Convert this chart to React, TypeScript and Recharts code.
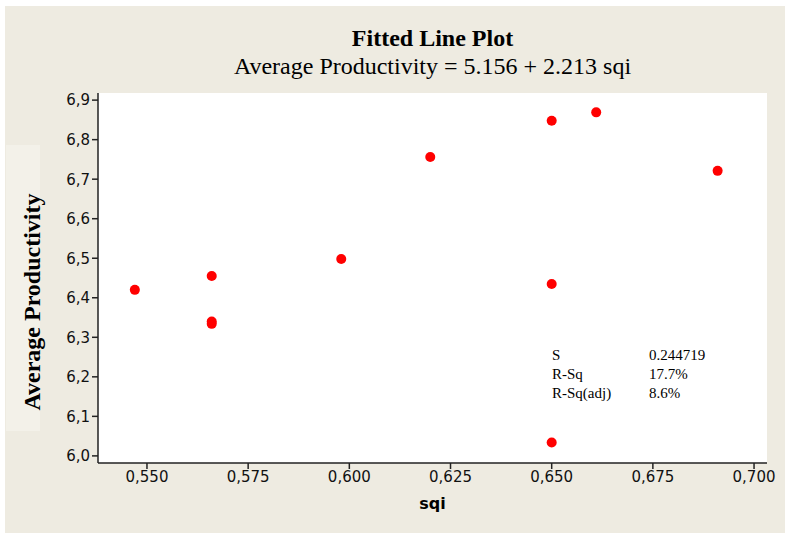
import { ScatterChart, Scatter, XAxis, YAxis, CartesianGrid } from 'recharts'

const sqi = [0.547, 0.566, 0.566, 0.566, 0.598, 0.62, 0.65, 0.65, 0.65, 0.661, 0.691]
const productivity = [6.42, 6.455, 6.334, 6.34, 6.498, 6.756, 6.848, 6.435, 6.034, 6.869, 6.721]
const xTicks = [0.55, 0.575, 0.6, 0.625, 0.65, 0.675, 0.7]
const yTicks = [6.0, 6.1, 6.2, 6.3, 6.4, 6.5, 6.6, 6.7, 6.8, 6.9]
const statLabels = ['S', 'R-Sq', 'R-Sq(adj)']
const statValues = ['0.244719', '17.7%', '8.6%']

const points = sqi.map((x, i) => ({ sqi: x, prod: productivity[i] }))

const comma = (d: number) => (v: number) => v.toFixed(d).replace('.', ',')

const serif = '"Liberation Serif", "Times New Roman", serif'
const sans = '"DejaVu Sans", Verdana, sans-serif'

function Dot(props: any) {
  const { cx, cy } = props
  return <circle cx={cx} cy={cy} r={5} fill="#ff0000" />
}

export default function App() {
  return (
    <div style={{ position: 'absolute', left: 0, top: 0, width: 789, height: 535, background: '#fff' }}>
      <div style={{ position: 'absolute', left: 5, top: 6, width: 780, height: 527, background: '#eeebe1' }} />
      <div style={{ position: 'absolute', left: 6, top: 145, width: 34, height: 286, background: '#f3f1e9' }} />
      <div style={{ position: 'absolute', left: 0, top: 0 }}>
        <ScatterChart width={789} height={535} margin={{ top: 93, right: 22, bottom: 22, left: 38 }}>
          <CartesianGrid horizontal={false} vertical={false} fill="#ffffff" stroke="none" />
          <XAxis
            type="number"
            dataKey="sqi"
            domain={[0.5379, 0.7032]}
            ticks={xTicks}
            tickFormatter={comma(3)}
            allowDataOverflow
            height={50}
            stroke="#222"
            strokeWidth={1.5}
            tickSize={6}
            tick={{ fontSize: 15, fill: '#111', fontFamily: sans }}
          />
          <YAxis
            type="number"
            dataKey="prod"
            domain={[5.982, 6.918]}
            ticks={yTicks}
            tickFormatter={comma(1)}
            allowDataOverflow
            width={60}
            stroke="#222"
            strokeWidth={1.5}
            tickSize={6}
            tickMargin={2}
            tick={{ fontSize: 15, fill: '#111', fontFamily: sans }}
          />
          <Scatter data={points} shape={<Dot />} isAnimationActive={false} />
        </ScatterChart>
      </div>
      <div style={{ position: 'absolute', left: 98, width: 669, top: 24, textAlign: 'center', fontFamily: serif, color: '#000' }}>
        <div style={{ fontSize: 24, fontWeight: 'bold', lineHeight: '28px' }}>Fitted Line Plot</div>
        <div style={{ fontSize: 24, lineHeight: '28px' }}>Average Productivity = 5.156 + 2.213 sqi</div>
      </div>
      <div
        style={{
          position: 'absolute',
          left: 32,
          top: 302,
          transform: 'translate(-50%, -50%) rotate(-90deg)',
          whiteSpace: 'nowrap',
          fontFamily: serif,
          fontWeight: 'bold',
          fontSize: 24,
          color: '#000',
        }}
      >
        Average Productivity
      </div>
      <div
        style={{
          position: 'absolute',
          left: 98,
          width: 669,
          top: 494,
          textAlign: 'center',
          fontFamily: sans,
          fontWeight: 'bold',
          fontSize: 16,
          color: '#000',
        }}
      >
        sqi
      </div>
      <div style={{ position: 'absolute', left: 552, top: 346, fontFamily: serif, fontSize: 15, lineHeight: '19px', color: '#000' }}>
        {statLabels.map((s, i) => (
          <div key={s} style={{ display: 'flex' }}>
            <span style={{ width: 97 }}>{s}</span>
            <span>{statValues[i]}</span>
          </div>
        ))}
      </div>
    </div>
  )
}
